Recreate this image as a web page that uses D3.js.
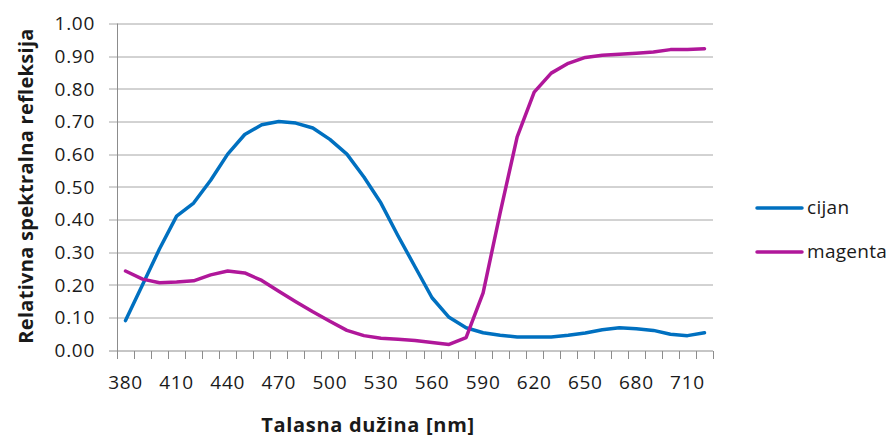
<!DOCTYPE html>
<html>
<head>
<meta charset="utf-8">
<script src="https://cdn.jsdelivr.net/npm/d3@7"></script>
<style>
  body { margin: 0; background: #fff; }
  svg text { font-family: "Open Sans", sans-serif; fill: #1a1a1a; }
</style>
</head>
<body>
<div id="chart"></div>
<script>
// wavelengths (nm), one category each
const wavelengths = [380, 390, 400, 410, 420, 430, 440, 450, 460, 470, 480, 490, 500, 510, 520, 530, 540, 550,
  560, 570, 580, 590, 600, 610, 620, 630, 640, 650, 660, 670, 680, 690, 700, 710, 720];

const cijan = [0.09, 0.20, 0.31, 0.41, 0.45, 0.52, 0.60, 0.66, 0.69, 0.70, 0.695, 0.68, 0.645, 0.60, 0.53, 0.45,
  0.35, 0.255, 0.16, 0.10, 0.068, 0.053, 0.045, 0.04, 0.04, 0.04, 0.045, 0.052, 0.062, 0.068, 0.065, 0.06,
  0.048, 0.044, 0.053];

const magenta = [0.242, 0.217, 0.206, 0.208, 0.212, 0.23, 0.242, 0.236, 0.213, 0.18, 0.148, 0.117, 0.088, 0.06,
  0.044, 0.036, 0.033, 0.029, 0.023, 0.017, 0.038, 0.175, 0.42, 0.653, 0.79, 0.848, 0.878, 0.896, 0.903, 0.906,
  0.909, 0.913, 0.92, 0.92, 0.923];

const yTicks = [0, 0.1, 0.2, 0.3, 0.4, 0.5, 0.6, 0.7, 0.8, 0.9, 1.0];
const xLabels = [380, 410, 440, 470, 500, 530, 560, 590, 620, 650, 680, 710];

const series = [
  { name: 'cijan', values: cijan, color: '#0070C0' },
  { name: 'magenta', values: magenta, color: '#B0179A' }
];

const width = 892, height = 437;
const margin = { top: 23.5, right: 179, bottom: 87, left: 117 };
const plotW = width - margin.left - margin.right;
const plotH = height - margin.top - margin.bottom;

const svg = d3.select('#chart')
  .append('svg')
  .attr('width', width)
  .attr('height', height);

const g = svg.append('g')
  .attr('transform', `translate(${margin.left},${margin.top})`);

const x = d3.scaleBand()
  .domain(wavelengths)
  .range([0, plotW]);

const y = d3.scaleLinear()
  .domain([0, 1])
  .range([plotH, 0]);

// horizontal gridlines (extend left as tick marks)
g.append('g')
  .selectAll('line')
  .data(yTicks.slice(1))
  .join('line')
  .attr('x1', -8)
  .attr('x2', plotW)
  .attr('y1', d => Math.round(y(d)) + 0.5)
  .attr('y2', d => Math.round(y(d)) + 0.5)
  .style('stroke', '#a6a6a6')
  .style('stroke-width', 1);

// y axis labels
g.append('g')
  .selectAll('text')
  .data(yTicks)
  .join('text')
  .attr('x', -22)
  .attr('y', d => y(d))
  .attr('dy', '0.36em')
  .attr('text-anchor', 'end')
  .style('font-size', '19px')
  .style('letter-spacing', '0.7px')
  .text(d => d.toFixed(2));

// x axis line + tick marks at band boundaries
const axisY = Math.round(plotH) + 0.5;
g.append('line')
  .attr('x1', -8).attr('x2', plotW)
  .attr('y1', axisY).attr('y2', axisY)
  .style('stroke', '#8c8c8c');

const boundaries = wavelengths.map(d => x(d)).concat([plotW]);
g.append('g')
  .selectAll('line')
  .data(boundaries)
  .join('line')
  .attr('x1', d => Math.round(d) + 0.5)
  .attr('x2', d => Math.round(d) + 0.5)
  .attr('y1', axisY)
  .attr('y2', axisY + 8)
  .style('stroke', '#8c8c8c');

// y axis line
g.append('line')
  .attr('x1', 0.5).attr('x2', 0.5)
  .attr('y1', 0).attr('y2', axisY)
  .style('stroke', '#8c8c8c');

// x labels
g.append('g')
  .selectAll('text')
  .data(xLabels)
  .join('text')
  .attr('x', d => x(d) + x.bandwidth() / 2)
  .attr('y', plotH + 32)
  .attr('dy', '0.36em')
  .attr('text-anchor', 'middle')
  .style('font-size', '19px')
  .style('letter-spacing', '0.7px')
  .text(d => d);

// lines
const line = d3.line()
  .x((d, i) => x(wavelengths[i]) + x.bandwidth() / 2)
  .y(d => y(d));

series.forEach(s => {
  g.append('path')
    .datum(s.values)
    .attr('d', line)
    .style('fill', 'none')
    .style('stroke', s.color)
    .style('stroke-width', 3.5)
    .style('stroke-linejoin', 'round')
    .style('stroke-linecap', 'round');
});

// legend
const legend = svg.append('g')
  .attr('transform', 'translate(757,208)');

series.forEach((s, i) => {
  const row = legend.append('g').attr('transform', `translate(0,${i * 44})`);
  row.append('line')
    .attr('x1', 0).attr('x2', 45)
    .attr('y1', 0).attr('y2', 0)
    .style('stroke', s.color)
    .style('stroke-width', 3.5)
    .style('stroke-linecap', 'round');
  row.append('text')
    .attr('x', 50)
    .attr('y', 0)
    .attr('dy', '0.34em')
    .style('font-size', '19px')
    .style('letter-spacing', '0.3px')
    .text(s.name);
});

// axis titles
svg.append('text')
  .attr('x', 368)
  .attr('y', 432)
  .attr('text-anchor', 'middle')
  .style('font-size', '20px')
  .style('font-weight', 'bold')
  .style('letter-spacing', '0.7px')
  .text('Talasna dužina [nm]');

svg.append('text')
  .attr('transform', 'translate(33,186) rotate(-90)')
  .attr('text-anchor', 'middle')
  .style('font-size', '20px')
  .style('font-weight', 'bold')
  .style('letter-spacing', '0.3px')
  .text('Relativna spektralna refleksija');
</script>
</body>
</html>
